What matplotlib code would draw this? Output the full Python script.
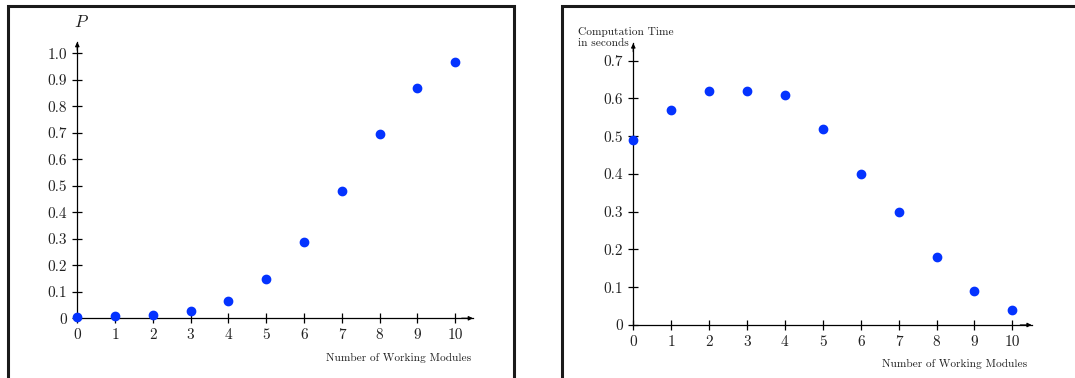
import numpy as np
import matplotlib
matplotlib.use("Agg")
import matplotlib.pyplot as plt
from matplotlib.patches import Rectangle

plt.rcParams['font.family'] = 'cmr10'
plt.rcParams['mathtext.fontset'] = 'cm'
plt.rcParams['axes.formatter.use_mathtext'] = True

# data
modules = [0, 1, 2, 3, 4, 5, 6, 7, 8, 9, 10]
prob = [0.006, 0.009, 0.014, 0.029, 0.067, 0.148, 0.287, 0.482, 0.694, 0.868, 0.966]
comp_time = [0.49, 0.57, 0.62, 0.62, 0.61, 0.52, 0.40, 0.30, 0.18, 0.09, 0.04]

p_ticks = [0, 0.1, 0.2, 0.3, 0.4, 0.5, 0.6, 0.7, 0.8, 0.9, 1.0]
p_labels = ['0', '0.1', '0.2', '0.3', '0.4', '0.5', '0.6', '0.7', '0.8', '0.9', '1.0']
t_ticks = [0, 0.1, 0.2, 0.3, 0.4, 0.5, 0.6, 0.7]
t_labels = ['0', '0.1', '0.2', '0.3', '0.4', '0.5', '0.6', '0.7']

W, H = 1075, 378
fig = plt.figure(figsize=(W/100, H/100), dpi=100)

dot = '#0433ff'
txt = '#222222'

def px_axes(x0, y0, w, h):
    # x0, y0 = pixel of data origin (from top-left), w/h in pixels
    return fig.add_axes([x0/W, (H-y0)/H, w/W, h/H])

def style(ax, xmax, ymax, yt, yl):
    ax.set_xlim(0, xmax)
    ax.set_ylim(0, ymax)
    for s in ['top', 'right']:
        ax.spines[s].set_visible(False)
    for s in ['left', 'bottom']:
        ax.spines[s].set_linewidth(0.9)
        ax.spines[s].set_color('black')
    ax.set_xticks(modules)
    ax.set_xticklabels([str(m) for m in modules])
    ax.set_yticks(yt)
    ax.set_yticklabels(yl)
    ax.tick_params(direction='inout', length=7, width=0.9, labelsize=11,
                   labelcolor=txt, pad=4)
    ax.set_facecolor('none')
    # arrow heads
    ax.annotate('', xy=(xmax, 0), xytext=(xmax - 0.3, 0),
                arrowprops=dict(arrowstyle='-|>', lw=0.9, color='black',
                                mutation_scale=6, shrinkA=0, shrinkB=0),
                annotation_clip=False)
    ax.annotate('', xy=(0, ymax), xytext=(0, ymax * 0.97),
                arrowprops=dict(arrowstyle='-|>', lw=0.9, color='black',
                                mutation_scale=6, shrinkA=0, shrinkB=0),
                annotation_clip=False)

# left panel: origin at (77.3, 318.3), 37.8 px per module
ax1 = px_axes(77.3, 318.3, 395.7, 276.3)
style(ax1, 10.47, 1.043, p_ticks, p_labels)
ax1.plot(modules, prob, 'o', color=dot, markersize=6, clip_on=False, zorder=5)
fig.text(81/W, (H-22)/H, '$P$', fontsize=12.5, color=txt, ha='center', va='center')
fig.text(471/W, (H-358)/H, 'Number of Working Modules', fontsize=8.2,
         color=txt, ha='right', va='center')

# right panel: origin at (633.3, 325)
ax2 = px_axes(633.3, 325, 398.4, 281.7)
style(ax2, 10.51, 0.746, t_ticks, t_labels)
ax2.plot(modules, comp_time, 'o', color=dot, markersize=6, clip_on=False, zorder=5)
fig.text(578/W, (H-32)/H, 'Computation Time', fontsize=8.2, color=txt,
         ha='left', va='center')
fig.text(578/W, (H-43)/H, 'in seconds', fontsize=8.2, color=txt,
         ha='left', va='center')
fig.text(1027/W, (H-364)/H, 'Number of Working Modules', fontsize=8.2,
         color=txt, ha='right', va='center')

# frames around the two panels
fig.add_artist(Rectangle((7.5/W, -0.05), 506/W, (H - 6)/H + 0.05,
                         transform=fig.transFigure, fill=False,
                         lw=2.2, edgecolor='#1a1a1a'))
fig.add_artist(Rectangle((562/W, -0.05), 0.6, (H - 6)/H + 0.05,
                         transform=fig.transFigure, fill=False,
                         lw=2.2, edgecolor='#1a1a1a'))

fig.savefig('out.png', dpi=100)
